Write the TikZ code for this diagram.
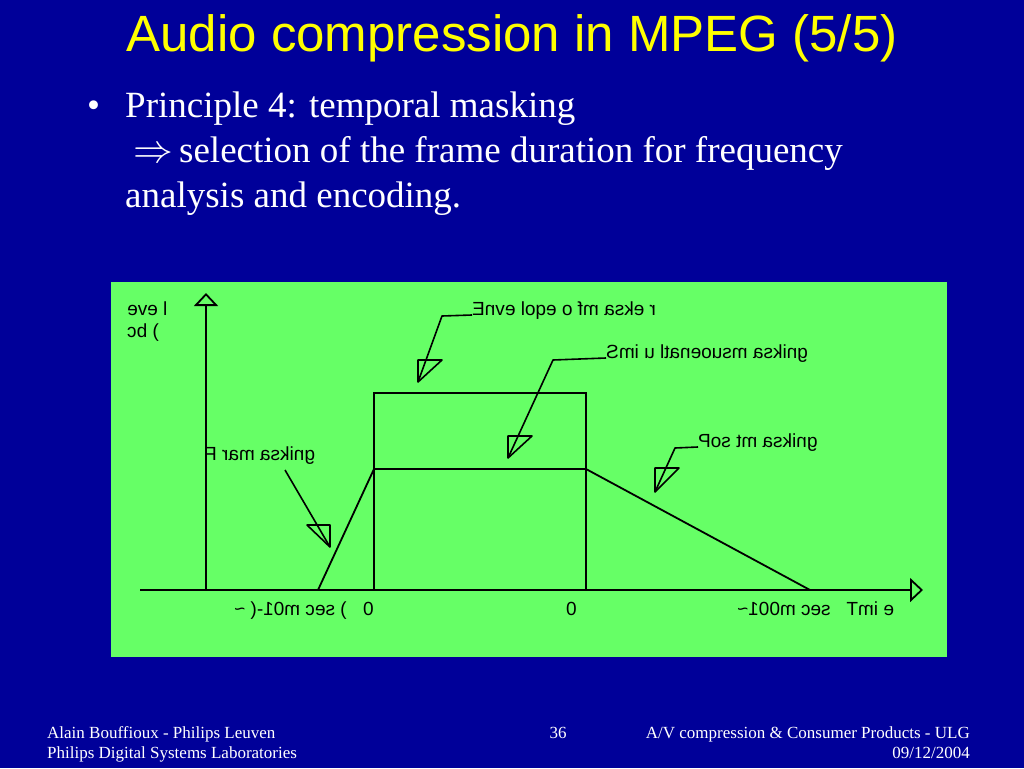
\documentclass[tikz,border=0pt]{standalone}
\usepackage{fontspec}
\setmainfont{Liberation Serif}
\setsansfont{Liberation Sans}
\usepackage{graphicx}
\usetikzlibrary{arrows.meta}
\definecolor{slideblue}{RGB}{0,0,153}
\definecolor{boardgreen}{RGB}{102,255,102}
\definecolor{titleyellow}{RGB}{255,255,0}
\newcommand{\mirrortext}[1]{\reflectbox{#1}}
\tikzset{
  bullettext/.style={anchor=base west, text=white, inner sep=0pt, font=\fontsize{37}{44}\selectfont},
  foot/.style={anchor=base west, text=white, inner sep=0pt, font=\fontsize{17}{20}\selectfont},
  plotlabel/.style={anchor=base west, inner sep=0pt, font=\sffamily\fontsize{19}{22}\selectfont},
  curve/.style={line width=1.8pt},
  pointer/.style={line width=1.6pt, line join=round},
  axisline/.style={line width=1.8pt, -{Triangle[open, length=13pt, width=24pt]}}
}
\begin{document}
\begin{tikzpicture}[x=1pt,y=-1pt]
  \fill[slideblue] (0,0) rectangle (1024,768);
  \node[text=titleyellow, font=\sffamily\fontsize{51}{61}\selectfont] (title) at (512,38) {Audio compression in MPEG (5/5)};
  \node[bullettext] (dot) at (87,117) {\textbullet};
  \node[bullettext] (line1) at (125,117) {Principle 4: temporal masking};
  \node[bullettext] (line2) at (133,162) {\scalebox{1.6}{$\Rightarrow$}\,selection of the frame duration for frequency};
  \node[bullettext] (line3) at (125,207) {analysis and encoding.};

  \fill[boardgreen] (111,282) rectangle (947,657);

  \coordinate (yfoot) at (206,590);
  \coordinate (ytop) at (206,293);
  \coordinate (xfoot) at (140,590);
  \coordinate (xtip) at (923,590);
  \draw[axisline] (yfoot) -- (ytop);
  \draw[axisline] (xfoot) -- (xtip);

  \coordinate (maskbl) at (374,590);
  \coordinate (masktl) at (374,393);
  \coordinate (masktr) at (586,393);
  \coordinate (maskbr) at (586,590);
  \coordinate (levl) at (374,469);
  \coordinate (levr) at (586,469);
  \coordinate (prefoot) at (318,590);
  \coordinate (postfoot) at (810,590);
  \draw[curve] (maskbl) -- (masktl) -- (masktr) -- (maskbr);
  \draw[curve] (levl) -- (levr);
  \draw[curve] (prefoot) -- (levl);
  \draw[curve] (levr) -- (postfoot);

  \node[plotlabel] (level) at (127,315) {\mirrortext{l eve}};
  \node[plotlabel] (dbunit) at (127,337) {\mirrortext{) bc}};
  \node[plotlabel] (envlbl) at (472,315) {\mirrortext{r eksa mf o eqol evnE}};
  \node[plotlabel] (simlbl) at (606,358) {\mirrortext{gniksa msuoenatl u imS}};
  \node[plotlabel] (prelbl) at (205,460) {\mirrortext{gniksa mar F}};
  \node[plotlabel] (postlbl) at (698,447) {\mirrortext{gniksa mt soP}};
  \node[plotlabel] (negtime) at (234,615) {\mirrortext{) sec m01-( \textasciitilde}};
  \node[plotlabel] (zeroa) at (363,615) {0};
  \node[plotlabel] (zerob) at (566,615) {0};
  \node[plotlabel] (timelbl) at (737,615) {\mirrortext{e imT\ \ \ sec m001\textasciitilde}};

  \coordinate (envknee) at (442,316);
  \coordinate (envtip) at (418,382);
  \coordinate (simknee) at (553,360);
  \coordinate (simtip) at (508,458);
  \coordinate (postknee) at (675,448);
  \coordinate (posttip) at (655,492);
  \coordinate (prestart) at (285,470);
  \coordinate (pretip) at (330,547);
  \draw[pointer] (envlbl.base west) -- (envknee) -- (envtip);
  \draw[pointer] (envtip) -- ++(0,-22) -- ++(24,0) -- cycle;
  \draw[pointer] (simlbl.base west) -- (simknee) -- (simtip);
  \draw[pointer] (simtip) -- ++(0,-22) -- ++(24,0) -- cycle;
  \draw[pointer] (postlbl.base west) -- (postknee) -- (posttip);
  \draw[pointer] (posttip) -- ++(0,-24) -- ++(24,0) -- cycle;
  \draw[pointer] (prestart) -- (pretip);
  \draw[pointer] (pretip) -- ++(0,-22) -- ++(-23,0) -- cycle;

  \node[foot] (authora) at (47,738) {Alain Bouffioux - Philips Leuven};
  \node[foot] (authorb) at (47,758) {Philips Digital Systems Laboratories};
  \node[foot, anchor=base] (page) at (558,738) {36};
  \node[foot, anchor=base east] (course) at (970,738) {A/V compression \& Consumer Products - ULG};
  \node[foot, anchor=base east] (date) at (970,758) {09/12/2004};
\end{tikzpicture}
\end{document}
